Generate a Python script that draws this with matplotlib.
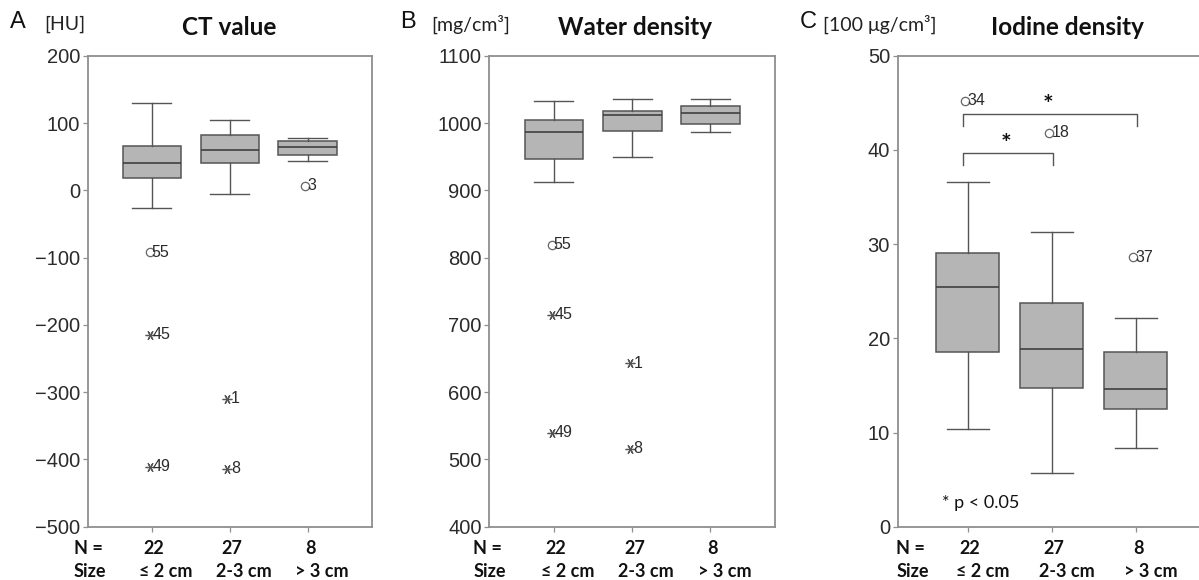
import numpy as np
import matplotlib.pyplot as plt

# ---- data ----
positions = [1, 2, 3]
n_labels = ["22", "27", "8"]
size_labels = ["\u2264 2 cm", "2-3 cm", "> 3 cm"]

# CT value [HU]
ct_whislo = [-27, -5, 44]
ct_q1 = [18, 41, 52]
ct_med = [41, 60, 64]
ct_q3 = [66, 82, 74]
ct_whishi = [130, 105, 77]
ct_circ = [(1, -92, "55"), (3, 7, "3")]
ct_star = [(1, -215, "45"), (1, -411, "49"), (2, -310, "1"), (2, -414, "8")]

# Water density [mg/cm3]
wd_whislo = [913, 950, 987]
wd_q1 = [946, 988, 999]
wd_med = [986, 1012, 1015]
wd_q3 = [1005, 1018, 1026]
wd_whishi = [1032, 1036, 1035]
wd_circ = [(1, 819, "55")]
wd_star = [(1, 715, "45"), (1, 540, "49"), (2, 643, "1"), (2, 516, "8")]

# Iodine density [100 ug/cm3]
io_whislo = [10.4, 5.7, 8.4]
io_q1 = [18.6, 14.7, 12.5]
io_med = [25.5, 18.9, 14.6]
io_q3 = [29.1, 23.8, 18.5]
io_whishi = [36.6, 31.3, 22.2]
io_circ = [(1, 45.2, "34"), (2, 41.8, "18"), (3, 28.6, "37")]
io_star = []
sig_pairs = [(1, 2), (1, 3)]
sig_heights = [39.7, 43.8]

BOX_FACE = "#b5b5b5"
LINE = "#555555"
SPINE = "#8f8f8f"
TXT = "#2b2b2b"
SANS = ["Liberation Sans", "DejaVu Sans"]
CAL = ["Lato", "DejaVu Sans"]


def make_stats(whislo, q1, med, q3, whishi):
    stats = []
    for i in range(len(med)):
        stats.append(dict(whislo=whislo[i], q1=q1[i], med=med[i], q3=q3[i],
                          whishi=whishi[i], fliers=[]))
    return stats


def draw_panel(ax, stats, circ, star, ylim, yticks, nx):
    ax.bxp(stats, positions=positions, widths=0.75, capwidths=0.5,
           patch_artist=True, showfliers=False,
           boxprops=dict(facecolor=BOX_FACE, edgecolor=LINE, linewidth=1.1),
           medianprops=dict(color="#404040", linewidth=1.2),
           whiskerprops=dict(color=LINE, linewidth=1.0),
           capprops=dict(color=LINE, linewidth=1.0))
    for x, y, lab in circ:
        ax.plot(x - 0.03, y, marker="o", ms=6, mfc="white", mec="#666666",
                mew=0.9, ls="none", zorder=4)
        ax.annotate(lab, (x - 0.03, y), xytext=(1.5, 0), textcoords="offset points",
                    ha="left", va="center", fontsize=11.5, color=TXT,
                    family=SANS, zorder=5)
    for x, y, lab in star:
        ax.plot(x - 0.03, y, marker=(6, 2, 90), ms=7, mec="#555555",
                mew=0.9, ls="none", zorder=4)
        ax.annotate(lab, (x - 0.03, y), xytext=(2.5, 0), textcoords="offset points",
                    ha="left", va="center", fontsize=11.5, color=TXT,
                    family=SANS, zorder=5)

    ax.set_xlim(0.175, 3.825)
    ax.set_ylim(*ylim)
    ax.set_yticks(yticks)
    ax.set_yticklabels(["\u2212" + str(-t) if t < 0 else str(t) for t in yticks],
                       family=SANS, fontsize=14.5, color=TXT)
    ax.set_xticks(positions)
    ax.set_xticklabels([])
    ax.tick_params(axis="both", direction="out", length=3.5, width=0.9,
                   color=SPINE, pad=2)
    for s in ax.spines.values():
        s.set_color(SPINE)
        s.set_linewidth(1.3)

    tr = ax.get_xaxis_transform()
    kw = dict(transform=tr, va="center", fontsize=13, fontweight="bold",
              family=CAL, color="#111111")
    ax.text(nx, -0.047, "N =", ha="left", **kw)
    ax.text(nx, -0.096, "Size", ha="left", **kw)
    for p, n, s in zip(positions, n_labels, size_labels):
        ax.text(p + 0.03, -0.047, n, ha="center", **kw)
        ax.text(p + 0.18, -0.096, s, ha="center", **kw)


fig = plt.figure(figsize=(11.99, 5.8), dpi=100)
bottom, height = 0.0919, 0.812
axA = fig.add_axes([0.0731, bottom, 0.2371, height])
axB = fig.add_axes([0.4081, bottom, 0.2383, height])
axC = fig.add_axes([0.7487, bottom, 0.2569, height])

draw_panel(axA, make_stats(ct_whislo, ct_q1, ct_med, ct_q3, ct_whishi),
           ct_circ, ct_star, (-500, 200), list(range(-500, 201, 100)), -0.005)
draw_panel(axB, make_stats(wd_whislo, wd_q1, wd_med, wd_q3, wd_whishi),
           wd_circ, wd_star, (400, 1100), list(range(400, 1101, 100)), -0.03)
draw_panel(axC, make_stats(io_whislo, io_q1, io_med, io_q3, io_whishi),
           io_circ, io_star, (0, 50), list(range(0, 51, 10)), 0.15)
axC.set_xlim(0.167, 3.833)
axC.spines["right"].set_visible(False)

# significance brackets
for (a, b), h in zip(sig_pairs, sig_heights):
    axC.plot([a - 0.06, a - 0.06, b + 0.02, b + 0.02], [h - 1.3, h, h, h - 1.3],
             color=LINE, lw=1.0)
    axC.text((a + b) / 2 - 0.04, h + 0.1, "*", ha="center", va="baseline",
             fontsize=18, fontweight="bold", family=CAL, color="#111111")
axC.text(0.69, 2.5, "* p < 0.05", ha="left", va="center", fontsize=13,
         family=CAL, color="#111111")

# panel headers
heads = [("A", "[HU]", "CT value", 0.008, 0.037, 0.191),
         ("B", "[mg/cm\u00b3]", "Water density", 0.334, 0.360, 0.530),
         ("C", "[100 \u03bcg/cm\u00b3]", "Iodine density", 0.667, 0.686, 0.890)]
for letter, unit, title, xl, xu, xt in heads:
    fig.text(xl, 0.962, letter, ha="left", va="center", fontsize=17,
             family=SANS, color="#111111")
    fig.text(xu, 0.958, unit, ha="left", va="center", fontsize=14,
             family=CAL, color="#222222")
    fig.text(xt, 0.953, title, ha="center", va="center", fontsize=17.5,
             fontweight="bold", family=CAL, color="#111111")

fig.savefig("out.png", dpi=100)
